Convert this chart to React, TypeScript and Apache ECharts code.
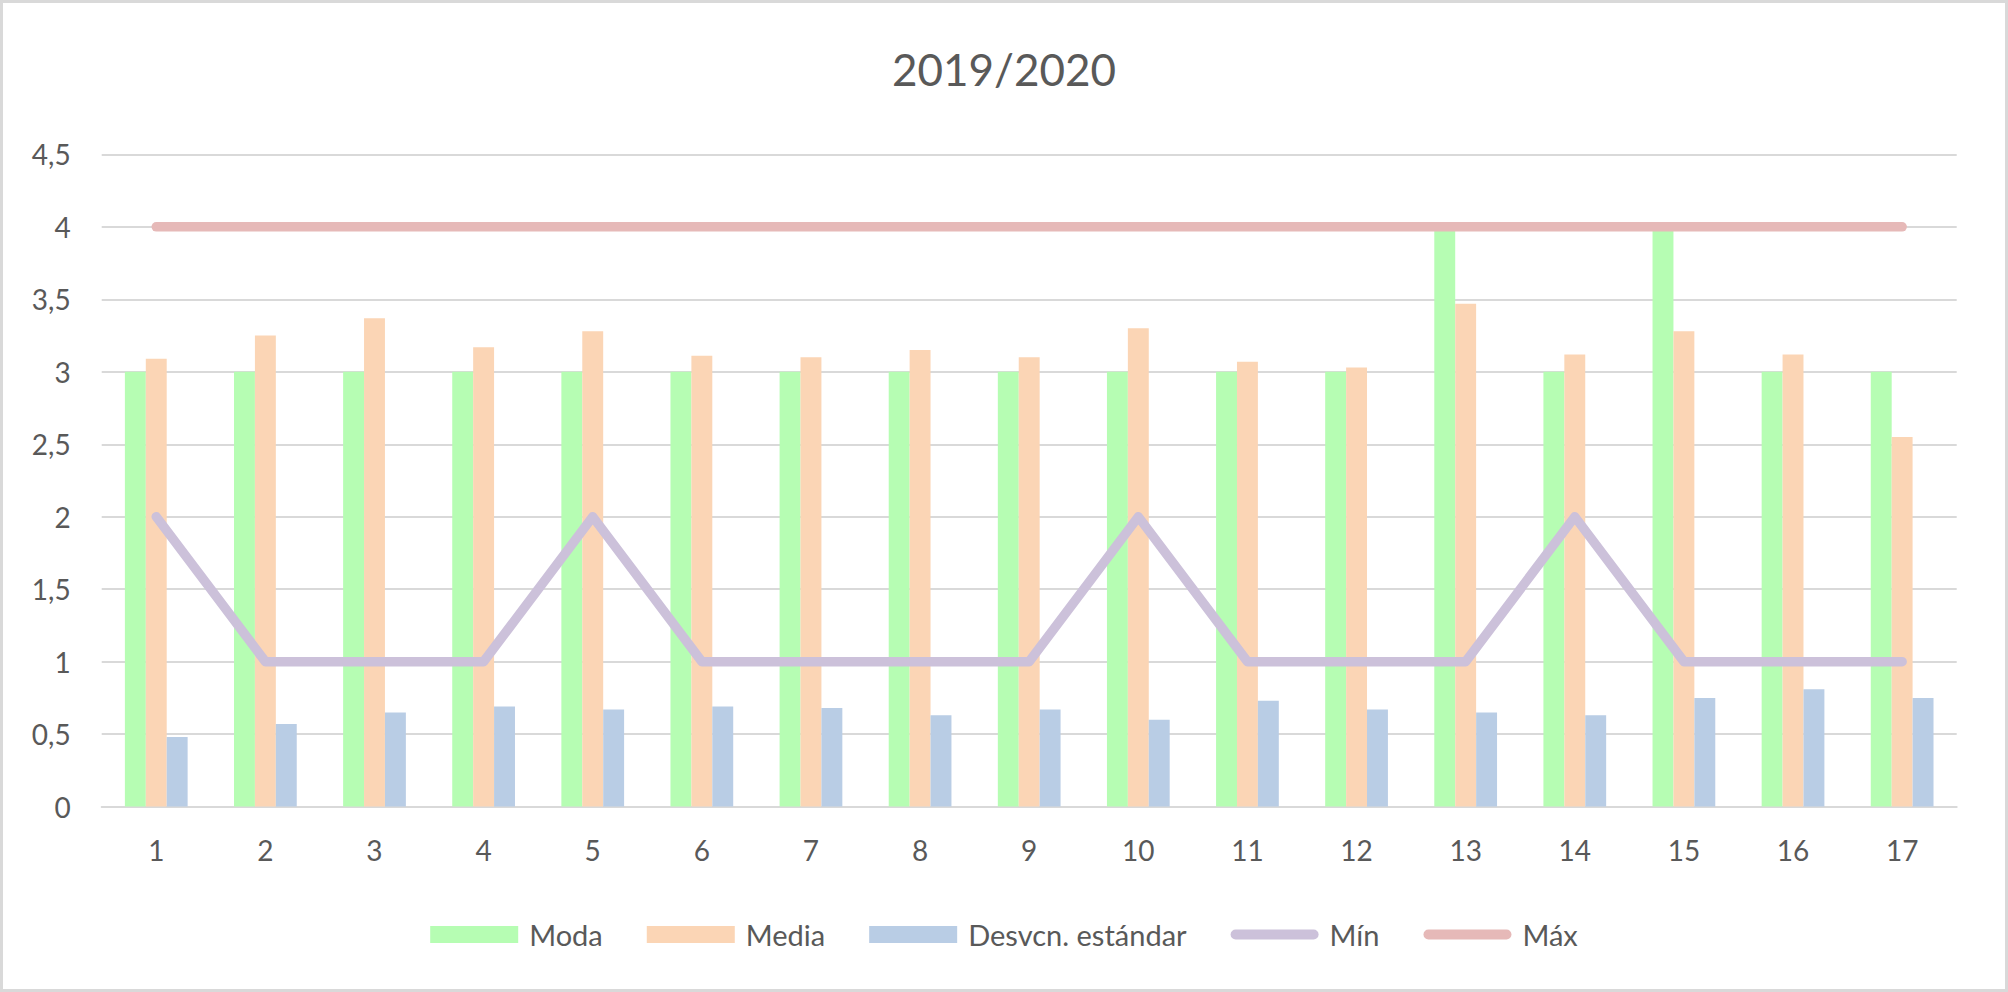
import React, { useEffect, useRef } from "react";
import * as echarts from "echarts";

const categories = ["1", "2", "3", "4", "5", "6", "7", "8", "9", "10", "11", "12", "13", "14", "15", "16", "17"];
const moda = [3, 3, 3, 3, 3, 3, 3, 3, 3, 3, 3, 3, 4, 3, 4, 3, 3];
const media = [3.09, 3.25, 3.37, 3.17, 3.28, 3.11, 3.1, 3.15, 3.1, 3.3, 3.07, 3.03, 3.47, 3.12, 3.28, 3.12, 2.55];
const desv = [0.48, 0.57, 0.65, 0.69, 0.67, 0.69, 0.68, 0.63, 0.67, 0.6, 0.73, 0.67, 0.65, 0.63, 0.75, 0.81, 0.75];
const minVals = [2, 1, 1, 1, 2, 1, 1, 1, 1, 2, 1, 1, 1, 2, 1, 1, 1];
const maxVals = [4, 4, 4, 4, 4, 4, 4, 4, 4, 4, 4, 4, 4, 4, 4, 4, 4];

const FONT = "Lato";
const TEXT = "#595959";
const GRID = "#d9d9d9";
const C_MODA = "#b6fdb3";
const C_MEDIA = "#fbd5b5";
const C_DESV = "#b9cde5";
const C_MIN = "#ccc1da";
const C_MAX = "#e6b9b8";

const lineIcon = "path://M5,0 L83,0 A5,5 0 0 1 83,10 L5,10 A5,5 0 0 1 5,0 Z";

export default function App() {
  const ref = useRef<HTMLDivElement>(null);
  useEffect(() => {
    document.body.style.margin = "0";
    const chart = echarts.init(ref.current!, null, { renderer: "svg" });
    chart.setOption({
      animation: false,
      backgroundColor: "#ffffff",
      title: {
        text: "2019/2020",
        left: "center",
        top: 42,
        textStyle: { fontFamily: FONT, fontSize: 44, fontWeight: "normal", color: TEXT },
      },
      graphic: [
        {
          type: "rect",
          shape: { x: 1.5, y: 1.5, width: 2005, height: 989 },
          style: { fill: "none", stroke: GRID, lineWidth: 3 },
          silent: true,
        },
      ],
      legend: {
        left: "center",
        top: 915,
        itemWidth: 88,
        itemHeight: 17,
        itemGap: 44,
        textStyle: { fontFamily: FONT, fontSize: 29, color: TEXT, padding: [0, 0, 0, 6] },
        data: [
          { name: "Moda", icon: "rect" },
          { name: "Media", icon: "rect" },
          { name: "Desvcn. estándar", icon: "rect" },
          { name: "Mín", icon: lineIcon, itemStyle: { color: C_MIN } },
          { name: "Máx", icon: lineIcon, itemStyle: { color: C_MAX } },
        ],
      },
      grid: { left: 101.7, right: 51.3, top: 154.4, bottom: 185.4, containLabel: false },
      xAxis: {
        type: "category",
        data: categories,
        axisLine: { lineStyle: { color: GRID, width: 2 } },
        axisTick: { show: false },
        axisLabel: { fontFamily: FONT, fontSize: 28, color: TEXT, margin: 29 },
      },
      yAxis: {
        type: "value",
        min: 0,
        max: 4.5,
        interval: 0.5,
        axisLine: { show: false },
        axisTick: { show: false },
        splitLine: { lineStyle: { color: GRID, width: 2 } },
        axisLabel: {
          fontFamily: FONT,
          fontSize: 28,
          color: TEXT,
          margin: 31,
          formatter: (v: number) => String(v).replace(".", ","),
        },
      },
      series: [
        { name: "Moda", type: "bar", data: moda, itemStyle: { color: C_MODA }, barGap: "0%", barCategoryGap: "42.5%" },
        { name: "Media", type: "bar", data: media, itemStyle: { color: C_MEDIA }, barGap: "0%", barCategoryGap: "42.5%" },
        { name: "Desvcn. estándar", type: "bar", data: desv, itemStyle: { color: C_DESV }, barGap: "0%", barCategoryGap: "42.5%" },
        {
          name: "Mín",
          type: "line",
          data: minVals,
          showSymbol: false,
          symbol: "none",
          itemStyle: { color: C_MIN },
          lineStyle: { color: C_MIN, width: 9.5, cap: "round", join: "round" },
        },
        {
          name: "Máx",
          type: "line",
          data: maxVals,
          showSymbol: false,
          symbol: "none",
          itemStyle: { color: C_MAX },
          lineStyle: { color: C_MAX, width: 9.5, cap: "round", join: "round" },
        },
      ],
    });
    return () => chart.dispose();
  }, []);
  return <div ref={ref} style={{ position: "fixed", left: 0, top: 0, width: 2008, height: 992 }} />;
}
